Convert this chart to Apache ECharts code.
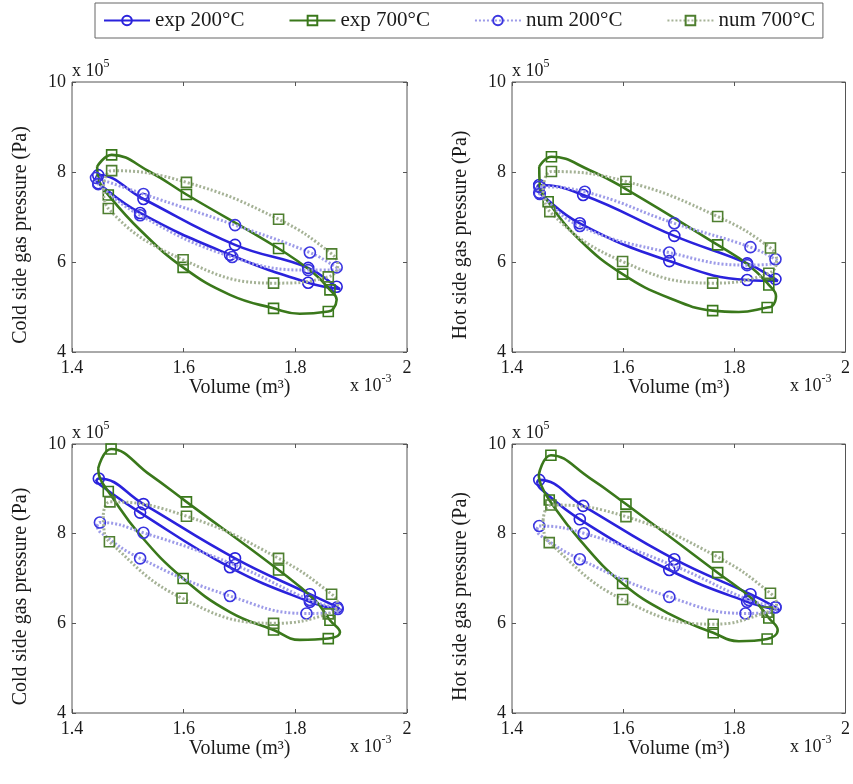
<!DOCTYPE html>
<html><head><meta charset="utf-8">
<script src="https://cdn.jsdelivr.net/npm/echarts@6/dist/echarts.min.js"></script>
<style>html,body{margin:0;padding:0;background:#fff}#c{width:853px;height:784px}</style>
</head><body><div id="c"></div>
<script>
// Tick labels
const xTicks = ['1.4', '1.6', '1.8', '2'];
const yTicks = ['4', '6', '8', '10'];
const seriesNames = ['exp 200°C', 'exp 700°C', 'num 200°C', 'num 700°C'];
const yLabels = ['Cold side gas pressure (Pa)', 'Hot side gas pressure (Pa)', 'Cold side gas pressure (Pa)', 'Hot side gas pressure (Pa)'];

// Each point: [volume (x10^-3 m^3), pressure (x10^5 Pa), marker shown (1/0)]
// Top-left: cold side
const tlExp200 = [[1.443,7.85,0],[1.447,7.93,1],[1.528,7.40,1],[1.692,6.38,1],[1.823,5.87,1],[1.874,5.45,1],[1.880,5.40,0],[1.823,5.54,1],[1.683,6.16,1],[1.522,7.09,1],[1.447,7.75,1]];
const tlExp700 = [[1.445,8.12,0],[1.471,8.38,1],[1.540,8.00,0],[1.605,7.50,1],[1.770,6.30,1],[1.832,5.76,0],[1.862,5.38,1],[1.874,5.16,0],[1.868,4.96,0],[1.859,4.90,1],[1.808,4.85,0],[1.761,4.97,1],[1.683,5.27,0],[1.599,5.88,1],[1.522,6.71,0],[1.465,7.49,1],[1.448,7.82,0]];
const tlNum200 = [[1.443,7.87,1],[1.528,7.51,1],[1.692,6.82,1],[1.826,6.21,1],[1.874,5.88,1],[1.880,5.82,0],[1.823,5.82,1],[1.687,6.11,1],[1.522,7.04,1],[1.447,7.73,1]];
const tlNum700 = [[1.456,7.60,0],[1.471,8.03,1],[1.605,7.77,1],[1.770,6.95,1],[1.865,6.18,1],[1.876,5.93,0],[1.859,5.67,1],[1.761,5.53,1],[1.599,6.05,1],[1.465,7.19,1]];
// Top-right: hot side
const trExp200 = [[1.445,7.62,0],[1.449,7.71,1],[1.528,7.49,1],[1.692,6.58,1],[1.823,5.97,1],[1.874,5.62,1],[1.878,5.58,0],[1.823,5.60,1],[1.683,6.02,1],[1.522,6.86,1],[1.449,7.54,1]];
const trExp700 = [[1.449,8.12,0],[1.471,8.34,1],[1.540,8.04,0],[1.605,7.62,1],[1.770,6.38,1],[1.826,5.93,0],[1.862,5.49,1],[1.875,5.24,0],[1.868,5.02,0],[1.859,4.99,1],[1.808,4.89,0],[1.761,4.92,1],[1.683,5.20,0],[1.599,5.73,1],[1.522,6.49,0],[1.465,7.34,1],[1.450,7.71,0]];
const trNum200 = [[1.445,7.62,0],[1.449,7.67,1],[1.531,7.56,1],[1.692,6.86,1],[1.829,6.33,1],[1.874,6.06,1],[1.880,6.00,0],[1.823,5.93,1],[1.683,6.21,1],[1.522,6.80,1],[1.450,7.51,1]];
const trNum700 = [[1.456,7.60,0],[1.471,8.01,1],[1.605,7.79,1],[1.770,7.01,1],[1.865,6.31,1],[1.876,6.04,0],[1.862,5.75,1],[1.761,5.53,1],[1.599,6.01,1],[1.468,7.12,1]];
// Bottom-left: cold side
const blExp200 = [[1.443,9.17,0],[1.448,9.23,1],[1.528,8.66,1],[1.692,7.45,1],[1.826,6.65,1],[1.875,6.36,1],[1.880,6.30,0],[1.826,6.48,1],[1.683,7.25,1],[1.522,8.47,1],[1.450,9.09,0]];
const blExp700 = [[1.447,9.46,0],[1.470,9.89,1],[1.540,9.31,0],[1.605,8.71,1],[1.770,7.19,1],[1.835,6.52,0],[1.862,6.07,1],[1.880,5.80,0],[1.859,5.66,1],[1.808,5.63,0],[1.761,5.85,1],[1.683,6.25,0],[1.599,7.00,1],[1.522,7.97,0],[1.465,8.94,1],[1.450,9.24,0]];
const blNum200 = [[1.445,8.17,0],[1.450,8.25,1],[1.528,8.02,1],[1.692,7.30,1],[1.826,6.52,1],[1.876,6.32,1],[1.880,6.27,0],[1.820,6.22,1],[1.683,6.61,1],[1.522,7.45,1],[1.450,8.04,0]];
const blNum700 = [[1.456,8.42,0],[1.468,8.71,1],[1.605,8.39,1],[1.770,7.45,1],[1.865,6.65,1],[1.876,6.43,0],[1.859,6.21,1],[1.761,6.00,1],[1.597,6.56,1],[1.467,7.82,1],[1.457,8.13,0]];
// Bottom-right: hot side
const brExp200 = [[1.445,9.13,0],[1.449,9.20,1],[1.528,8.62,1],[1.692,7.43,1],[1.829,6.65,1],[1.874,6.36,1],[1.880,6.30,0],[1.823,6.48,1],[1.683,7.19,1],[1.522,8.32,1],[1.450,9.02,0]];
const brExp700 = [[1.448,9.31,0],[1.470,9.75,1],[1.540,9.24,0],[1.605,8.66,1],[1.770,7.13,1],[1.835,6.52,0],[1.862,6.12,1],[1.878,5.85,0],[1.859,5.65,1],[1.808,5.60,0],[1.762,5.79,1],[1.683,6.21,0],[1.599,6.89,1],[1.522,7.86,0],[1.467,8.75,1],[1.452,9.09,0]];
const brNum200 = [[1.445,8.10,0],[1.449,8.17,1],[1.529,8.01,1],[1.692,7.28,1],[1.826,6.52,1],[1.874,6.36,1],[1.879,6.30,0],[1.820,6.22,1],[1.683,6.59,1],[1.522,7.43,1],[1.450,7.97,0]];
const brNum700 = [[1.456,8.30,0],[1.470,8.64,1],[1.605,8.38,1],[1.770,7.48,1],[1.865,6.67,1],[1.876,6.43,0],[1.859,6.25,1],[1.762,5.98,1],[1.599,6.53,1],[1.467,7.80,1],[1.457,8.08,0]];

const panelData = [
  [tlExp200, tlExp700, tlNum200, tlNum700],
  [trExp200, trExp700, trNum200, trNum700],
  [blExp200, blExp700, blNum200, blNum700],
  [brExp200, brExp700, brNum200, brNum700]
];

const FONT = 'Liberation Serif';
const TXT = '#1a1a1a';
const panels = [
  {left: 72, top: 82, width: 335, height: 270},
  {left: 512, top: 82, width: 335, height: 270},
  {left: 72, top: 444, width: 335, height: 269},
  {left: 512, top: 444, width: 335, height: 269}
];
const styles = [
  {line: '#2a22dc', width: 2.6, type: 'solid', symbol: 'circle', mark: '#2a22dc', size: 11},
  {line: '#3a781b', width: 2.6, type: 'solid', symbol: 'rect', mark: '#3a781b', size: 10},
  {line: '#9d9be8', width: 3, type: [2, 2], symbol: 'circle', mark: '#3b36e0', size: 11},
  {line: '#a5b296', width: 3, type: [2, 2], symbol: 'rect', mark: '#4f7f30', size: 10}
];

const grids = [], xAxes = [], yAxes = [], series = [], graphics = [];
panels.forEach((p, i) => {
  grids.push({left: p.left, top: p.top, width: p.width, height: p.height, show: true,
    borderColor: '#555', borderWidth: 1, backgroundColor: '#fff'});
  const tick = {show: true, inside: true, length: 4, lineStyle: {color: '#555'}};
  xAxes.push({type: 'value', gridIndex: i, min: 1.4, max: 2.0, interval: 0.2,
    axisLine: {show: false}, splitLine: {show: false}, axisTick: tick,
    axisLabel: {margin: 7, fontFamily: FONT, fontSize: 18, color: TXT,
      formatter: v => xTicks[Math.round((v - 1.4) / 0.2)] || ''},
    name: 'Volume (m³)', nameLocation: 'middle', nameGap: 24,
    nameTextStyle: {fontFamily: FONT, fontSize: 20, color: TXT}});
  xAxes.push({type: 'value', gridIndex: i, position: 'top', min: 1.4, max: 2.0, interval: 0.2,
    axisLine: {show: false}, splitLine: {show: false}, axisTick: tick, axisLabel: {show: false}});
  yAxes.push({type: 'value', gridIndex: i, min: 4, max: 10, interval: 2,
    axisLine: {show: false}, splitLine: {show: false}, axisTick: tick,
    axisLabel: {margin: 6, fontFamily: FONT, fontSize: 18, color: TXT,
      formatter: v => yTicks[Math.round((v - 4) / 2)] || ''}});
  yAxes.push({type: 'value', gridIndex: i, position: 'right', min: 4, max: 10, interval: 2,
    axisLine: {show: false}, splitLine: {show: false}, axisTick: tick, axisLabel: {show: false}});

  panelData[i].forEach((loop, k) => {
    const s = styles[k];
    const data = loop.map(pt => ({value: [pt[0], pt[1]], symbol: pt[2] ? s.symbol : 'none'}));
    data.push({value: [loop[0][0], loop[0][1]], symbol: 'none'});
    series.push({
      type: 'line', name: seriesNames[k], xAxisIndex: 2 * i, yAxisIndex: 2 * i,
      data: data, smooth: 0.45, symbol: s.symbol, symbolSize: s.size, showSymbol: true,
      lineStyle: {color: s.line, width: s.width, type: s.type},
      itemStyle: {color: 'rgba(255,255,255,0)', borderColor: s.mark, borderWidth: 1.6},
      emphasis: {disabled: true}, z: 2 + k
    });
  });

  // y-axis title
  graphics.push({type: 'text', x: p.left - 51, y: p.top + p.height / 2 + 18, rotation: Math.PI / 2,
    style: {text: yLabels[i], fontFamily: FONT, fontSize: 20, fill: TXT, align: 'center', verticalAlign: 'middle'}});
  // exponent above y axis
  graphics.push({type: 'text', x: p.left, y: p.top - 13,
    style: {text: '{a|x 10}{b|5}', verticalAlign: 'middle', align: 'left',
      rich: {a: {fontFamily: FONT, fontSize: 18, fill: TXT, lineHeight: 22, verticalAlign: 'bottom'},
             b: {fontFamily: FONT, fontSize: 12, fill: TXT, lineHeight: 22, verticalAlign: 'top'}}}});
  // exponent below x axis
  graphics.push({type: 'text', x: p.left + p.width - 57, y: p.top + p.height + 32,
    style: {text: '{a|x 10}{b|-3}', verticalAlign: 'middle', align: 'left',
      rich: {a: {fontFamily: FONT, fontSize: 18, fill: TXT, lineHeight: 22, verticalAlign: 'bottom'},
             b: {fontFamily: FONT, fontSize: 12, fill: TXT, lineHeight: 22, verticalAlign: 'top'}}}});
});

const chart = echarts.init(document.getElementById('c'), null, {renderer: 'canvas'});
chart.setOption({
  animation: false,
  backgroundColor: '#fff',
  legend: {
    data: seriesNames, left: 95, top: 3, width: 740,
    padding: [7, 8, 7, 8], borderColor: '#666', borderWidth: 1,
    itemGap: 44, itemWidth: 46, itemHeight: 12,
    textStyle: {fontFamily: FONT, fontSize: 21, color: TXT},
    selectedMode: false
  },
  grid: grids, xAxis: xAxes, yAxis: yAxes, series: series, graphic: graphics
});
</script>
</body></html>
